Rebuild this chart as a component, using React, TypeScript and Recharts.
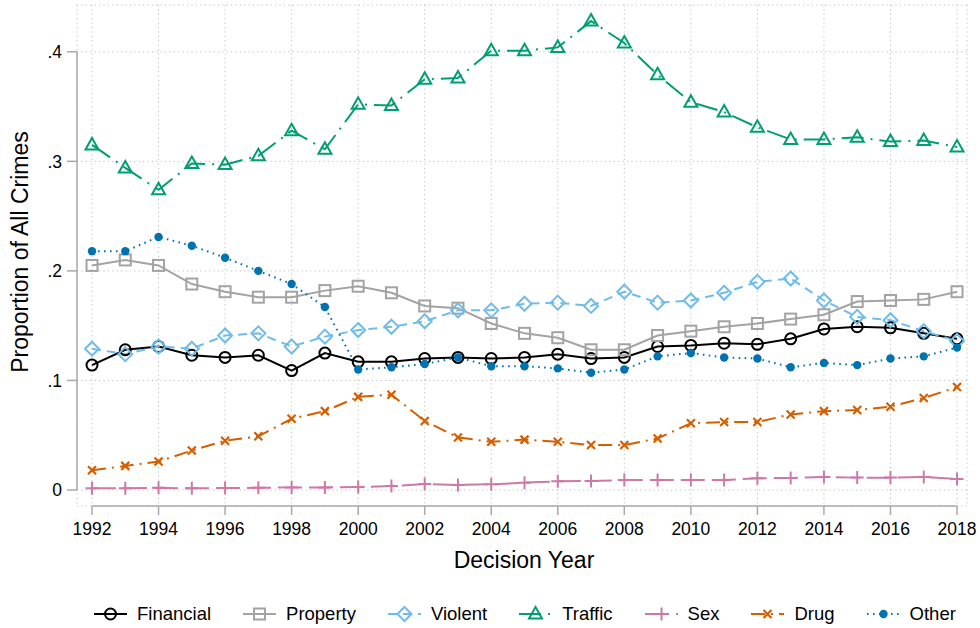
import { CartesianGrid, Line, LineChart, ReferenceLine, XAxis, YAxis } from "recharts";

/**
 * Proportion of all crimes by decision year, seven crime categories.
 * Stata-like look: dotted grid, detached axes, hollow markers.
 */

const years = [
  1992, 1993, 1994, 1995, 1996, 1997, 1998, 1999, 2000, 2001, 2002, 2003, 2004, 2005,
  2006, 2007, 2008, 2009, 2010, 2011, 2012, 2013, 2014, 2015, 2016, 2017, 2018,
];

const financial = [
  0.114, 0.128, 0.131, 0.123, 0.121, 0.123, 0.109, 0.125, 0.117, 0.117, 0.12, 0.121, 0.12, 0.121,
  0.124, 0.12, 0.121, 0.131, 0.132, 0.134, 0.133, 0.138, 0.147, 0.149, 0.148, 0.143, 0.138,
];
const property = [
  0.205, 0.21, 0.205, 0.188, 0.181, 0.176, 0.176, 0.182, 0.186, 0.18, 0.168, 0.166, 0.152, 0.143,
  0.139, 0.128, 0.128, 0.141, 0.145, 0.149, 0.152, 0.156, 0.16, 0.172, 0.173, 0.174, 0.181,
];
const violent = [
  0.129, 0.124, 0.131, 0.129, 0.141, 0.143, 0.131, 0.14, 0.146, 0.149, 0.154, 0.164, 0.164, 0.17,
  0.171, 0.168, 0.181, 0.171, 0.173, 0.18, 0.19, 0.193, 0.173, 0.158, 0.155, 0.145, 0.136,
];
const traffic = [
  0.315, 0.294, 0.274, 0.298, 0.297, 0.305, 0.328, 0.311, 0.352, 0.351, 0.375, 0.376, 0.401, 0.401,
  0.404, 0.428, 0.408, 0.379, 0.354, 0.345, 0.331, 0.32, 0.32, 0.322, 0.318, 0.319, 0.313,
];
const sex = [
  0.0015, 0.0015, 0.002, 0.0015, 0.0018, 0.002, 0.0024, 0.0024, 0.0027, 0.0036, 0.0055, 0.0046,
  0.0052, 0.0067, 0.0079, 0.0082, 0.0091, 0.0091, 0.0091, 0.0091, 0.0107, 0.011, 0.0119, 0.0113,
  0.0113, 0.0119, 0.01,
];
const drug = [
  0.018, 0.022, 0.026, 0.036, 0.045, 0.049, 0.065, 0.072, 0.085, 0.087, 0.063, 0.048, 0.044, 0.046,
  0.044, 0.041, 0.041, 0.047, 0.061, 0.062, 0.062, 0.069, 0.072, 0.073, 0.076, 0.084, 0.094,
];
const other = [
  0.218, 0.218, 0.231, 0.223, 0.212, 0.2, 0.188, 0.167, 0.11, 0.112, 0.115, 0.121, 0.113, 0.113,
  0.111, 0.107, 0.11, 0.122, 0.125, 0.121, 0.12, 0.112, 0.116, 0.114, 0.12, 0.122, 0.13,
];

const xTicks = [1992, 1994, 1996, 1998, 2000, 2002, 2004, 2006, 2008, 2010, 2012, 2014, 2016, 2018];
const yTicks = [0, 0.1, 0.2, 0.3, 0.4];
const yTickLabels = ["0", ".1", ".2", ".3", ".4"];

// plot region is a bit wider than the data, like Stata's default
const X_DOMAIN: [number, number] = [1991.549, 2018.3];
const Y_DOMAIN: [number, number] = [-0.0146, 0.4427];

const FONT = '"Liberation Sans", Arial, Helvetica, sans-serif';
const AXIS_GRAY = "#a9a9a9";

type MarkerKind = "circle" | "square" | "diamond" | "triangle" | "plus" | "cross" | "dot";

interface Series {
  key: string;
  name: string;
  values: number[];
  color: string;
  dash?: string;
  marker: MarkerKind;
}

const SERIES: Series[] = [
  { key: "financial", name: "Financial", values: financial, color: "#000000", marker: "circle" },
  { key: "property", name: "Property", values: property, color: "#a3a3a3", marker: "square" },
  { key: "violent", name: "Violent", values: violent, color: "#6fbceb", dash: "9 6", marker: "diamond" },
  { key: "traffic", name: "Traffic", values: traffic, color: "#009e73", dash: "22 7 2 7", marker: "triangle" },
  { key: "sex", name: "Sex", values: sex, color: "#cc79a7", dash: "24 7", marker: "plus" },
  { key: "drug", name: "Drug", values: drug, color: "#d55e00", dash: "14 6 2 6", marker: "cross" },
  { key: "other", name: "Other", values: other, color: "#0072b2", dash: "1.6 4.4", marker: "dot" },
];

const rows = years.map((year, i) => {
  const r: Record<string, number> = { year };
  SERIES.forEach((s) => (r[s.key] = s.values[i]));
  return r;
});

function Marker({ kind, color, cx, cy }: { kind: MarkerKind; color: string; cx: number; cy: number }) {
  const sw = 2;
  switch (kind) {
    case "circle":
      return <circle cx={cx} cy={cy} r={5.5} fill="none" stroke={color} strokeWidth={sw} />;
    case "square":
      return <rect x={cx - 5.5} y={cy - 5.5} width={11} height={11} fill="none" stroke={color} strokeWidth={sw} />;
    case "diamond":
      return (
        <polygon
          points={`${cx},${cy - 7} ${cx + 7},${cy} ${cx},${cy + 7} ${cx - 7},${cy}`}
          fill="none"
          stroke={color}
          strokeWidth={sw}
        />
      );
    case "triangle":
      return (
        <polygon
          points={`${cx},${cy - 7} ${cx + 6.5},${cy + 4.5} ${cx - 6.5},${cy + 4.5}`}
          fill="none"
          stroke={color}
          strokeWidth={sw}
        />
      );
    case "plus":
      return (
        <path d={`M${cx - 6.5},${cy}H${cx + 6.5}M${cx},${cy - 6.5}V${cy + 6.5}`} stroke={color} strokeWidth={sw} />
      );
    case "cross":
      return (
        <path
          d={`M${cx - 4},${cy - 4}L${cx + 4},${cy + 4}M${cx - 4},${cy + 4}L${cx + 4},${cy - 4}`}
          stroke={color}
          strokeWidth={2.2}
        />
      );
    default:
      return <circle cx={cx} cy={cy} r={4.2} fill={color} stroke="none" />;
  }
}

function LegendItem({ s }: { s: Series }) {
  return (
    <div style={{ display: "flex", alignItems: "center", marginRight: 32 }}>
      <svg width={33} height={20} style={{ marginRight: 10, overflow: "visible" }}>
        <line x1={0} y1={10} x2={33} y2={10} stroke={s.color} strokeWidth={2} strokeDasharray={s.dash} />
        <Marker kind={s.marker} color={s.color} cx={16.5} cy={10} />
      </svg>
      <span>{s.name}</span>
    </div>
  );
}

export default function App() {
  return (
    <div
      style={{
        position: "absolute",
        left: 0,
        top: 0,
        width: 980,
        height: 628,
        background: "#fff",
        fontFamily: FONT,
      }}
    >
      <LineChart width={980} height={628} data={rows} margin={{ top: 5, right: 13, bottom: 82, left: 0 }}>
        <CartesianGrid stroke="#bdbdbd" strokeWidth={1} strokeDasharray="1.2 3.2" />
        <XAxis
          dataKey="year"
          type="number"
          domain={X_DOMAIN}
          allowDataOverflow
          ticks={xTicks}
          interval={0}
          height={40}
          axisLine={false}
          tickLine={{ stroke: AXIS_GRAY, strokeWidth: 1.5 }}
          tickSize={9}
          tickMargin={8}
          tick={{ fill: "#000", fontSize: 17.5, fontFamily: FONT }}
        />
        <YAxis
          type="number"
          domain={Y_DOMAIN}
          allowDataOverflow
          ticks={yTicks}
          interval={0}
          width={77}
          axisLine={false}
          tickLine={{ stroke: AXIS_GRAY, strokeWidth: 1.5 }}
          tickSize={10}
          tickMargin={5}
          tick={{ fill: "#000", fontSize: 17.5, fontFamily: FONT }}
          tickFormatter={(v: number) => yTickLabels[yTicks.indexOf(v)] ?? String(v)}
        />
        <ReferenceLine
          segment={[
            { x: xTicks[0], y: Y_DOMAIN[0] },
            { x: xTicks[xTicks.length - 1], y: Y_DOMAIN[0] },
          ]}
          stroke={AXIS_GRAY}
          strokeWidth={1.5}
          ifOverflow="visible"
        />
        <ReferenceLine
          segment={[
            { x: X_DOMAIN[0], y: yTicks[0] },
            { x: X_DOMAIN[0], y: yTicks[yTicks.length - 1] },
          ]}
          stroke={AXIS_GRAY}
          strokeWidth={1.5}
          ifOverflow="visible"
        />
        {SERIES.map((s) => (
          <Line
            key={s.key}
            type="linear"
            dataKey={s.key}
            name={s.name}
            stroke={s.color}
            strokeWidth={2}
            strokeDasharray={s.dash}
            dot={(p: any) => <Marker key={`${s.key}-${p.index}`} kind={s.marker} color={s.color} cx={p.cx} cy={p.cy} />}
            activeDot={false}
            isAnimationActive={false}
          />
        ))}
      </LineChart>

      {/* axis titles */}
      <div
        style={{
          position: "absolute",
          left: 20,
          top: 252,
          transform: "translate(-50%, -50%) rotate(-90deg)",
          fontSize: 23,
          lineHeight: "23px",
          whiteSpace: "nowrap",
        }}
      >
        Proportion of All Crimes
      </div>
      <div
        style={{
          position: "absolute",
          left: 524,
          top: 549,
          transform: "translateX(-50%)",
          fontSize: 23,
          lineHeight: "23px",
          whiteSpace: "nowrap",
        }}
      >
        Decision Year
      </div>

      {/* legend */}
      <div
        style={{
          position: "absolute",
          left: 94,
          top: 604,
          height: 20,
          display: "flex",
          alignItems: "center",
          fontSize: 18.5,
          whiteSpace: "nowrap",
        }}
      >
        {SERIES.map((s) => (
          <LegendItem key={s.key} s={s} />
        ))}
      </div>
    </div>
  );
}
